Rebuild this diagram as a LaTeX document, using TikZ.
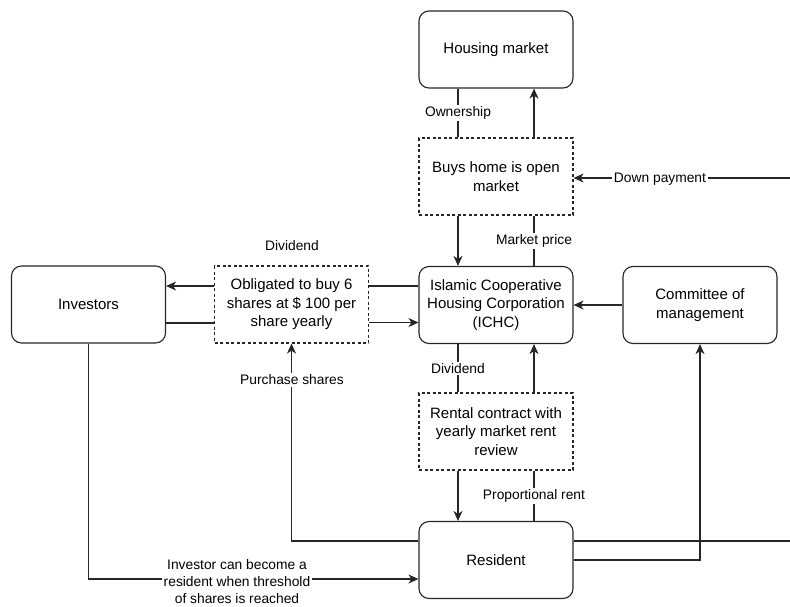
\documentclass[tikz,border=0pt]{standalone}
\usepackage{fontspec}
\setmainfont{Liberation Sans}
\usetikzlibrary{arrows.meta}
\begin{document}
\begin{tikzpicture}[x=1pt,y=-1pt, line width=1.15pt, draw=black!85,
  box/.style={draw, rounded corners=10pt, minimum width=154pt, minimum height=77pt,
    align=center, inner sep=2pt, font=\fontsize{15}{18.5}\selectfont},
  labelbox/.style={box, rounded corners=0pt, dash pattern=on 3pt off 2.5pt},
  elabel/.style={fill=white, inner sep=1.5pt, align=center, font=\fontsize{13.8}{17}\selectfont},
  arr/.style={-{Stealth[length=10pt,width=9pt,inset=3pt]}}]
\useasboundingbox (0,0) rectangle (790,606);

% main parties
\node[box] (housing) at (496,49.5) {Housing market};
\node[labelbox] (buys) at (496,176.5) {Buys home is open\\market};
\node[box] (ichc) at (496,305) {Islamic Cooperative\\Housing Corporation\\(ICHC)};
\node[labelbox] (rental) at (496,431.5) {Rental contract with\\yearly market rent\\review};
\node[box] (resident) at (496,560) {Resident};
\node[box] (investors) at (88.5,304.5) {Investors};
\node[labelbox] (oblig) at (291.5,304.5) {Obligated to buy 6\\shares at \$ 100 per\\share yearly};
\node[box] (committee) at (700,305) {Committee of\\management};

% loose ends running off to the right
\coordinate (dpin) at (790,178);
\coordinate (resout) at (790,541);

% housing market <-> purchase
\draw[arr] ([xshift=38]buys.north) -- ([xshift=38]housing.south);
\draw ([xshift=-38]housing.south) -- node[elabel] {Ownership} ([xshift=-38]buys.north);
\draw[arr] (dpin) -- (buys.east |- dpin);
\node[elabel] (dplabel) at (660,179) {Down payment};

% purchase <-> ICHC
\draw[arr] ([xshift=-38]buys.south) -- ([xshift=-38]ichc.north);
\draw ([xshift=38]ichc.north) -- node[elabel] {Market price} ([xshift=38]buys.south);

% ICHC <-> investors via share obligation
\draw ([yshift=19]ichc.west) -- ([yshift=19]ichc.west -| oblig.east);
\draw[arr] ([yshift=18.5]oblig.west) -- ([yshift=18.5]investors.east);
\draw ([yshift=-18.5]investors.east) -- ([yshift=-18.5]oblig.west);
\draw[arr] ([yshift=-18]oblig.east) -- ([yshift=-18]oblig.east -| ichc.west);
\node[elabel] (divtop) at (292,246) {Dividend};

% committee -> ICHC
\draw[arr] (committee.west) -- (committee.west -| ichc.east);

% ICHC <-> rental contract
\draw ([xshift=-38]ichc.south) -- node[elabel] {Dividend} ([xshift=-38]rental.north);
\draw[arr] ([xshift=38]rental.north) -- ([xshift=38]ichc.south);

% rental contract <-> resident
\draw[arr] ([xshift=-38]rental.south) -- ([xshift=-38]resident.north);
\draw ([xshift=38]resident.north) -- node[elabel] {Proportional rent} ([xshift=38]rental.south);

% resident links
\draw[arr] ([yshift=19]resident.west) -| (oblig.south);
\node[elabel] (purch) at (292,380) {Purchase shares};
\draw[arr] (resident.east) -| (committee.south);
\draw ([yshift=19]resident.east) -- (resout);

% investor may become resident
\draw[arr] (investors.south) |- ([yshift=-19]resident.west);
\node[elabel] (thresh) at (237,582) {Investor can become a\\resident when threshold\\of shares is reached};
\end{tikzpicture}
\end{document}
